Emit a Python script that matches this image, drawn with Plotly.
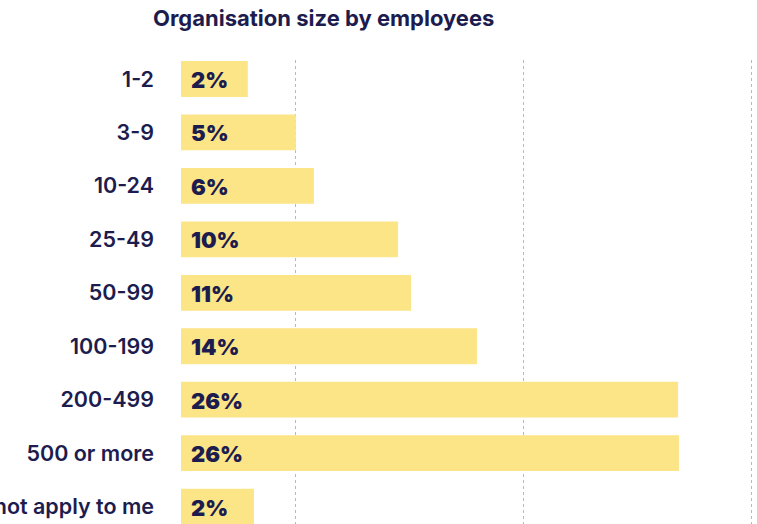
import plotly.graph_objects as go

# organisation size buckets, top to bottom
sizes = ["1-2", "3-9", "10-24", "25-49", "50-99", "100-199", "200-499",
         "500 or more", "Does not apply to me"]
# percentage shown on each bar
pct_labels = [2, 5, 6, 10, 11, 14, 26, 26, 2]
# bar lengths as drawn in the picture (axis units, gridlines at 5/15/25)
bar_len = [2.93, 5.04, 5.83, 9.52, 10.09, 12.98, 21.8, 21.84, 3.2]
grid_vals = [5, 15, 25]

navy = "#1d1c4e"
yellow = "#fce587"
font_name = "Inter"

fig = go.Figure()
fig.add_trace(go.Bar(
    x=bar_len, y=sizes, orientation="h",
    marker=dict(color=yellow, line=dict(width=0)),
    width=0.67, hoverinfo="skip",
))

for s, p in zip(sizes, pct_labels):
    fig.add_annotation(
        x=0, y=s, xref="x", yref="y", text="{}%".format(p),
        showarrow=False, xanchor="left", xshift=8, yshift=-1,
        font=dict(family=font_name, size=22, color=navy, weight=900),
    )

fig.update_layout(
    width=757, height=524,
    margin=dict(l=181, r=0, t=60, b=0, autoexpand=False),
    paper_bgcolor="white", plot_bgcolor="white",
    showlegend=False,
    title=dict(
        text="Organisation size by employees",
        xref="container", x=153 / 757, xanchor="left",
        yref="container", y=1 - 18 / 524, yanchor="middle",
        font=dict(family=font_name, size=22, color=navy, weight=700),
    ),
    xaxis=dict(
        range=[0, 576 / 22.8], tickvals=grid_vals, showticklabels=False,
        showgrid=True, gridcolor="#b8b8b8", griddash="dot", gridwidth=1,
        zeroline=False, showline=False, fixedrange=True, automargin=False,
    ),
    yaxis=dict(
        range=[8.325, -0.355], showgrid=False, zeroline=False, showline=False,
        ticks="", ticklabelstandoff=26, automargin=False,
        tickfont=dict(family=font_name, size=21.5, color=navy, weight=600),
        fixedrange=True,
    ),
)

# drop the browser's default body margin so the figure sits at the page corner
fig.write_html("out.html", config={"displayModeBar": False},
               post_script="document.body.style.margin='0';")
